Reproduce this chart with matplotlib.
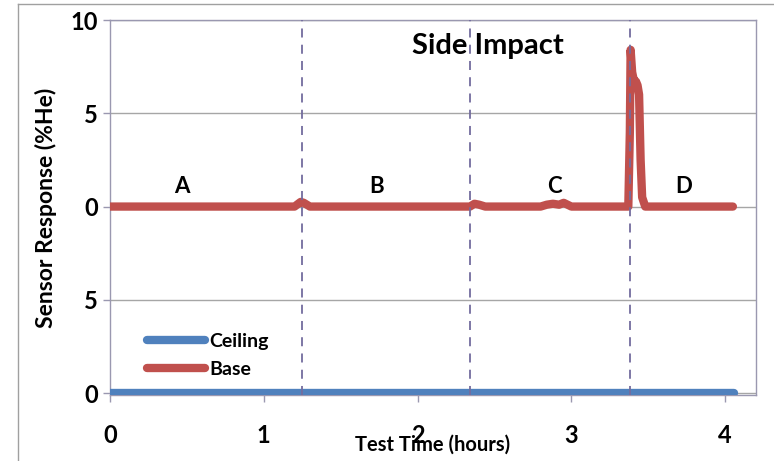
import matplotlib.pyplot as plt
from matplotlib.lines import Line2D

plt.rcParams['font.family'] = ['Lato', 'DejaVu Sans']
plt.rcParams['font.weight'] = 'bold'

# Ceiling sensor (%He), plotted on the lower band
ceiling_t = [0.0, 1.0, 2.0, 3.0, 4.0, 4.06]
ceiling_he = [0.0, 0.0, 0.0, 0.0, 0.0, 0.0]

# Base sensor (%He), plotted on the upper band (offset by 10)
base_t = [0.0, 1.20, 1.24, 1.26, 1.30, 2.34, 2.37, 2.40, 2.44, 2.80, 2.84,
          2.88, 2.92, 2.95, 3.00, 3.05, 3.370, 3.380, 3.385, 3.395, 3.405,
          3.420, 3.430, 3.440, 3.450, 3.460, 3.48, 4.05]
base_he = [0.0, 0.0, 0.25, 0.2, 0.0, 0.0, 0.15, 0.1, 0.0, 0.0, 0.1,
           0.15, 0.1, 0.2, 0.0, 0.0, 0.0, 4.0, 8.4, 7.2, 6.8,
           6.7, 6.5, 6.0, 2.5, 0.5, 0.0, 0.0]
base_offset = 10

# Test phase boundaries (hours) and phase labels
phase_bounds = [1.25, 2.34, 3.38]
phase_names = ['A', 'B', 'C', 'D']
phase_label_t = [0.47, 1.73, 2.89, 3.73]
phase_label_y = 11.1

y_ticks = [0, 5, 10, 15, 20]
y_tick_labels = ['0', '5', '0', '5', '10']

ceiling_color = '#4F81BD'
base_color = '#C0504D'

fig = plt.figure(figsize=(7.74, 4.61), dpi=100)
ax = fig.add_axes([0.1421, 0.1432, 0.8346, 0.8134])

ax.plot(ceiling_t, ceiling_he, color=ceiling_color, lw=6,
        solid_capstyle='round', label='Ceiling', zorder=3)
ax.plot(base_t, [v + base_offset for v in base_he], color=base_color, lw=6,
        solid_capstyle='round', solid_joinstyle='round', label='Base', zorder=3)

for t in phase_bounds:
    ax.axvline(t, color='#736c9e', lw=1.3, ls=(0, (5, 4)), zorder=4)

for name, t in zip(phase_names, phase_label_t):
    ax.text(t, phase_label_y, name, ha='center', va='center', fontsize=16,
            fontweight='bold')

ax.text(2.46, 18.6, 'Side Impact', ha='center', va='center', fontsize=21,
        fontweight='bold')

ax.set_xlim(0, 4.2)
ax.set_ylim(-0.1, 20)
ax.set_yticks(y_ticks)
ax.set_yticklabels(y_tick_labels)
ax.set_xticks([0, 1, 2, 3, 4])
ax.yaxis.grid(True, color='#a6a6a6', lw=1.0)
ax.set_axisbelow(True)

for side in ['left', 'right', 'top', 'bottom']:
    ax.spines[side].set_color('#9a98b0')
    ax.spines[side].set_linewidth(1.0)
ax.tick_params(axis='both', length=5, width=1.0, color='#9a98b0',
               labelsize=17, direction='out')
ax.tick_params(axis='x', pad=16)
for lab in ax.get_xticklabels() + ax.get_yticklabels():
    lab.set_fontweight('bold')

ax.set_xlabel('Test Time (hours)', fontsize=14.5, fontweight='bold',
              labelpad=-9)
ax.set_ylabel('Sensor Response (%He)', fontsize=16.5, fontweight='bold',
              labelpad=10)

ax.legend(loc='upper left', bbox_to_anchor=(0.057, 0.165), frameon=False,
          borderaxespad=0, borderpad=0, handlelength=3.0, handletextpad=0.2,
          labelspacing=0.55, prop={'weight': 'bold', 'size': 14})

# chart frame
fig.add_artist(Line2D([0.023, 0.023], [0.0, 0.991], color='#a0a0a0', lw=1.0,
                      transform=fig.transFigure))
fig.add_artist(Line2D([0.023, 1.0], [0.991, 0.991], color='#a0a0a0', lw=1.0,
                      transform=fig.transFigure))

fig.savefig('out.png', dpi=100)
